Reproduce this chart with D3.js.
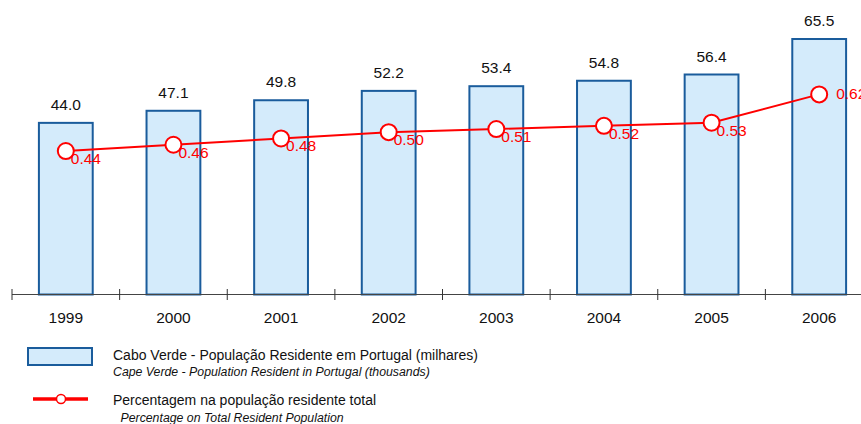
<!DOCTYPE html>
<html>
<head>
<meta charset="utf-8">
<script src="https://cdn.jsdelivr.net/npm/d3@7"></script>
<style>
  body { margin: 0; background: #fff; }
  svg { font-family: Arial, "Liberation Sans", sans-serif; display: block; }
</style>
</head>
<body>
<div id="chart"></div>
<script>
// Cabo Verde - resident population in Portugal

var years = ["1999", "2000", "2001", "2002", "2003", "2004", "2005", "2006"];
var population = [44.0, 47.1, 49.8, 52.2, 53.4, 54.8, 56.4, 65.5];
var percentage = [0.44, 0.46, 0.48, 0.50, 0.51, 0.52, 0.53, 0.62];

var legendTitles = ["Cabo Verde - População Residente em Portugal (milhares)",
                    "Percentagem na população residente total"];
var legendSubtitles = ["Cape Verde - Population Resident in Portugal (thousands)",
                       "Percentage on Total Resident Population"];

var width = 861, height = 424;

var svg = d3.select("#chart").append("svg")
    .attr("width", width)
    .attr("height", height);

var x = d3.scaleBand()
    .domain(years)
    .range([12, 873])
    .paddingInner(0.5)
    .paddingOuter(0.25);

var y = d3.scaleLinear()
    .domain([0, 75.5])
    .range([294.5, 0]);

// secondary scale for the percentage line
var y2 = d3.scaleLinear()
    .domain([0, 0.92])
    .range([289.5, 0]);

// bars
svg.selectAll("rect.bar")
    .data(population)
    .enter().append("rect")
    .attr("class", "bar")
    .attr("x", function(d, i) { return x(years[i]); })
    .attr("y", function(d) { return y(d); })
    .attr("width", x.bandwidth())
    .attr("height", function(d) { return y(0) - y(d); })
    .style("fill", "#d4ebfb")
    .style("stroke", "#1a5c9c")
    .style("stroke-width", 2);

svg.selectAll("text.barlabel")
    .data(population)
    .enter().append("text")
    .attr("class", "barlabel")
    .attr("x", function(d, i) { return x(years[i]) + x.bandwidth() / 2; })
    .attr("y", function(d) { return y(d) - 13; })
    .attr("text-anchor", "middle")
    .style("font-size", "15.5px")
    .style("fill", "#111")
    .text(function(d) { return d.toFixed(1); });

// axis
var axis = svg.append("g");
axis.append("line")
    .attr("x1", 12).attr("x2", width)
    .attr("y1", y(0)).attr("y2", y(0))
    .style("stroke", "#444").style("stroke-width", 1);

var step = x.step(), off = (step - x.bandwidth()) / 2;
axis.selectAll("line.tick")
    .data(years)
    .enter().append("line")
    .attr("class", "tick")
    .attr("x1", function(d) { return x(d) - off; })
    .attr("x2", function(d) { return x(d) - off; })
    .attr("y1", y(0) - 5.5).attr("y2", y(0) + 5.5)
    .style("stroke", "#333").style("stroke-width", 1);

axis.selectAll("text.year")
    .data(years)
    .enter().append("text")
    .attr("class", "year")
    .attr("x", function(d) { return x(d) + x.bandwidth() / 2; })
    .attr("y", 323)
    .attr("text-anchor", "middle")
    .style("font-size", "15.5px")
    .style("fill", "#111")
    .text(function(d) { return d; });

// percentage line
var line = d3.line()
    .x(function(d, i) { return x(years[i]) + x.bandwidth() / 2; })
    .y(function(d) { return y2(d); });

svg.append("path")
    .datum(percentage)
    .attr("d", line)
    .style("fill", "none")
    .style("stroke", "#ff0000")
    .style("stroke-width", 2);

var last = percentage.length - 1;
svg.selectAll("text.pct")
    .data(percentage)
    .enter().append("text")
    .attr("class", "pct")
    .attr("x", function(d, i) { return x(years[i]) + x.bandwidth() / 2 + (i === last ? 17 : 5); })
    .attr("y", function(d, i) { return y2(d) + (i === last ? 5 : 13); })
    .style("font-size", "15.5px")
    .style("fill", "#ff0000")
    .text(function(d) { return d.toFixed(2); });

svg.selectAll("circle.pt")
    .data(percentage)
    .enter().append("circle")
    .attr("class", "pt")
    .attr("cx", function(d, i) { return x(years[i]) + x.bandwidth() / 2; })
    .attr("cy", function(d) { return y2(d); })
    .attr("r", 8)
    .style("fill", "#fff")
    .style("stroke", "#ff0000")
    .style("stroke-width", 2);

// legend
var legend = svg.append("g");
legend.append("rect")
    .attr("x", 28).attr("y", 348)
    .attr("width", 64).attr("height", 17)
    .style("fill", "#d4ebfb")
    .style("stroke", "#1a5c9c")
    .style("stroke-width", 2);

legend.append("line")
    .attr("x1", 33).attr("x2", 88)
    .attr("y1", 399).attr("y2", 399)
    .style("stroke", "#ff0000")
    .style("stroke-width", 3.5);
legend.append("circle")
    .attr("cx", 61).attr("cy", 399).attr("r", 4.5)
    .style("fill", "#fff")
    .style("stroke", "#ff0000")
    .style("stroke-width", 1.5);

legend.selectAll("text.ltitle")
    .data(legendTitles)
    .enter().append("text")
    .attr("class", "ltitle")
    .attr("x", 113)
    .attr("y", function(d, i) { return i === 0 ? 360 : 405; })
    .style("font-size", "14px")
    .style("fill", "#111")
    .text(function(d) { return d; });

legend.selectAll("text.lsub")
    .data(legendSubtitles)
    .enter().append("text")
    .attr("class", "lsub")
    .attr("x", function(d, i) { return i === 0 ? 113 : 120.5; })
    .attr("y", function(d, i) { return i === 0 ? 375.5 : 421.5; })
    .style("font-size", "12.3px")
    .style("font-style", "italic")
    .style("fill", "#111")
    .text(function(d) { return d; });
</script>
</body>
</html>
